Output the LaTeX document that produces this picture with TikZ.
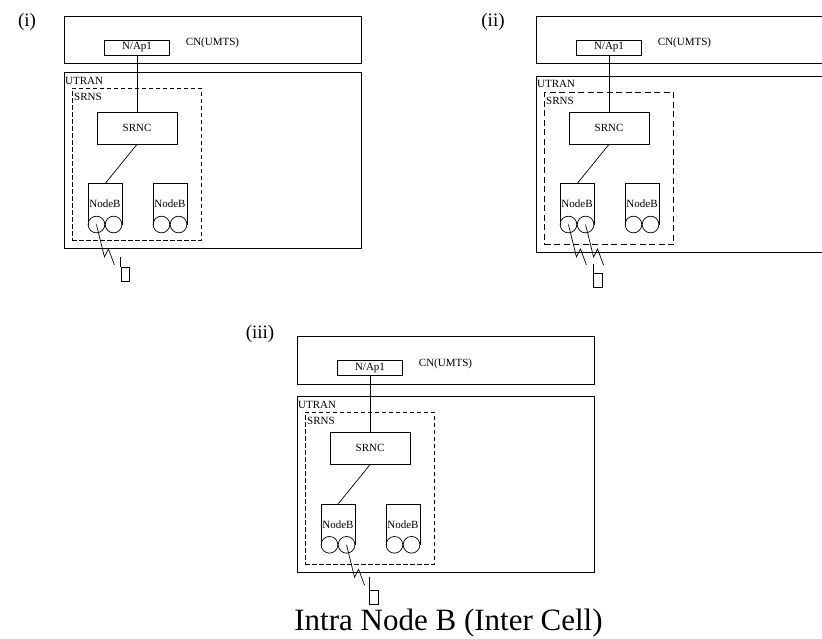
\documentclass[tikz,border=0pt]{standalone}
\usepackage{fontspec}
\setmainfont{Liberation Serif}
\usetikzlibrary{positioning}

% one CN/UTRAN panel: #1 name, #2 x, #3 y, #4 UTRAN offset, #5 SRNS style
\newcommand{\umtspanel}[5]{%
  \begin{scope}[shift={(#2,#3)}]
    % Core network
    \node (#1-cn) [netbox, minimum width=297, minimum height=47.6, anchor=north west] at (0,0) {};
    \node (#1-nap) [netbox, label, minimum width=65, minimum height=15] at (73,31.8) {N/Ap1};
    \node (#1-cnlabel) [label] at (148.5,27.5) {CN(UMTS)};

    % UTRAN and SRNS
    \node (#1-utran) [netbox, minimum width=297, minimum height=176.6, anchor=north west] at (0,56+#4) {};
    \node (#1-utranlabel) [label, anchor=base west] at (1,68.3+#4) {UTRAN};
    \node (#1-srns) [#5, minimum width=129, minimum height=152, anchor=north west] at (8,72.3+#4) {};
    \node (#1-srnslabel) [label, anchor=base west] at (10,85+#4) {SRNS};
    \node (#1-srnc) [netbox, label, minimum width=80, minimum height=32] at (73,112.3) {SRNC};

    % Node B
    \node (#1-nb1) [nodeb] at (41,188.45) {NodeB};
    \node (#1-nb2) [nodeb] at (106,188.45) {NodeB};
    \draw [wire] (#1-nb1.south west) |- (#1-nb1.north east) -- (#1-nb1.south east);
    \draw [wire] (#1-nb2.south west) |- (#1-nb2.north east) -- (#1-nb2.south east);
    \path (#1-nb1.south west) ++(8.35,0) coordinate (#1-c1);
    \path (#1-nb1.south east) ++(-8.35,0) coordinate (#1-c2);
    \path (#1-nb2.south west) ++(8.35,0) coordinate (#1-c3);
    \path (#1-nb2.south east) ++(-8.35,0) coordinate (#1-c4);
    \draw [wire] (#1-c1) circle (8.35pt) (#1-c2) circle (8.35pt);
    \draw [wire] (#1-c3) circle (8.35pt) (#1-c4) circle (8.35pt);

    % Links
    \draw [wire] (#1-nap.south) -- (#1-srnc.north);
    \draw [wire] (#1-srnc.south) -- (#1-nb1.north);
  \end{scope}%
}

\begin{document}
\begin{tikzpicture}[
        x=1pt, y=-1pt,
        netbox/.style={rectangle, draw=black, line width=0.7pt, inner sep=0pt},
        label/.style={font=\fontsize{11}{13}\selectfont, inner sep=0pt},
        nodeb/.style={rectangle, minimum width=33.4, minimum height=40.3, inner sep=0pt, font=\fontsize{11}{13}\selectfont},
        srnsline/.style={rectangle, draw=black, line width=0.7pt, dash pattern=on 4.5pt off 2.5pt, inner sep=0pt},
        srnsbold/.style={rectangle, draw=black, line width=1.4pt, dash pattern=on 6pt off 3.5pt, inner sep=0pt},
        phone/.style={rectangle, draw=black, line width=0.7pt, minimum width=8.5, minimum height=14, inner sep=0pt, anchor=north west},
        tag/.style={font=\fontsize{19}{22}\selectfont, inner sep=0pt},
        wire/.style={draw=black, line width=0.7pt},
        radio/.style={draw=black, line width=0.7pt, line join=miter}
    ]
        \useasboundingbox (0,0) rectangle (822,638);

        % Three panels
        \umtspanel{i}{64}{15.7}{0}{srnsline}
        \umtspanel{ii}{536}{15.7}{3.8}{srnsbold}
        \umtspanel{iii}{297}{336}{3.8}{srnsline}

        \node (tagi) [tag] at (27,22) {(i)};
        \node (tagii) [tag] at (493,21.5) {(ii)};
        \node (tagiii) [tag] at (260,334) {(iii)};

        % Mobiles
        \node (i-ue) [phone] at (120.7,266.7) {};
        \node (ii-ue) [phone] at (593.3,273.3) {};
        \node (iii-ue) [phone] at (369,590) {};
        \draw [wire] (i-ue.north west) -- ++(0,-9.4);
        \draw [wire] (ii-ue.north west) -- ++(0,-9);
        \draw [wire] (iii-ue.north west) -- ++(0,-13.3);

        % Radio links
        \draw [radio] (i-c1) -- ++(8,32.5) -- ++(4,-8) -- ++(6,16);
        \draw [radio] (ii-c1) -- ++(8,32.5) -- ++(4,-8) -- ++(6,16);
        \draw [radio] (ii-c2) -- ++(8,32.5) -- ++(4,-8) -- ++(6,16);
        \draw [radio] (iii-c2) -- ++(8,32.5) -- ++(4,-8) -- ++(6,16);

        % Caption
        \node (caption) [font=\fontsize{31}{35}\selectfont, inner sep=0pt, anchor=base] at (448.5,630.5) {Intra Node B (Inter Cell)};
    \end{tikzpicture}
\end{document}
